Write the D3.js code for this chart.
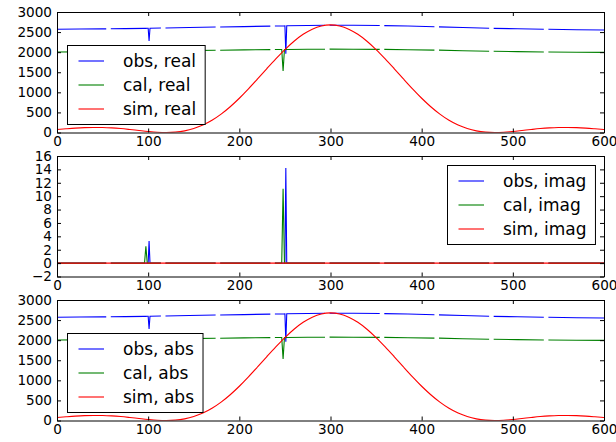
<!DOCTYPE html>
<html>
<head>
<meta charset="utf-8">
<script src="https://cdn.jsdelivr.net/npm/d3@7"></script>
<style>
  body { margin: 0; background: #fff; }
  svg { display: block; font-family: "DejaVu Sans", sans-serif; }
</style>
</head>
<body>
<div id="chart"></div>
<script>
var width  = 616;
var height = 442;

// sample positions shared by obs and cal (null values are gaps in the record)
var sampleX = [0, 25, 50, 54, 56, 59, 75, 96, 97.5, 99, 100, 101, 102, 114, 116, 119, 145,
  174, 176, 179, 205, 234, 236, 239, 246.5, 248, 249.5, 250, 251, 252, 275, 294, 296, 299,
  325, 354, 356, 359, 385, 414, 416, 419, 445, 474, 476, 479, 505, 534, 536, 539, 570, 600];

var obsReal = [2570, 2575, 2580, 2581, null, 2582, 2587, 2593, 2593, 2594, 2595, 2280, 2595,
  2600, null, 2602, 2613, 2625, null, 2627, 2637, 2648, null, 2650, 2653, 2653, 2654, 2655,
  1960, 2656, 2664, 2670, null, 2672, 2670, 2664, null, 2662, 2650, 2633, null, 2630, 2613,
  2596, null, 2593, 2583, 2571, null, 2569, 2558, 2550];

var calReal = [2005, 2008, 2012, 2013, null, 2014, 2018, 2024, 1750, 2025, 2025, 2025, 2025,
  2029, null, 2031, 2039, 2047, null, 2049, 2056, 2064, null, 2065, 2067, 1530, 2068, 2068,
  2068, 2068, 2072, 2074, null, 2075, 2073, 2070, null, 2069, 2062, 2052, null, 2050, 2037,
  2024, null, 2022, 2013, 2005, null, 2004, 1998, 1995];

var obsImag = [0, 0, 0, 0, null, 0, 0, 0, 0, 0, 0, 3.3, 0,
  0, null, 0, 0, 0, null, 0, 0, 0, null, 0, 0, 0, 0, 0,
  14.2, 0, 0, 0, null, 0, 0, 0, null, 0, 0, 0, null, 0, 0,
  0, null, 0, 0, 0, null, 0, 0, 0];

var calImag = [0, 0, 0, 0, null, 0, 0, 0, 2.5, 0, 0, 0, 0,
  0, null, 0, 0, 0, null, 0, 0, 0, null, 0, 0, 11.1, 0, 0,
  0, 0, 0, 0, null, 0, 0, 0, null, 0, 0, 0, null, 0, 0,
  0, null, 0, 0, 0, null, 0, 0, 0];

// simulated curve, every 10 samples
var simX = [0, 10, 20, 30, 40, 50, 60, 70, 80, 90, 100, 110, 120, 130, 140, 150, 160, 170, 180,
  190, 200, 210, 220, 230, 240, 250, 260, 270, 280, 290, 300, 310, 320, 330, 340, 350, 360,
  370, 380, 390, 400, 410, 420, 430, 440, 450, 460, 470, 480, 490, 500, 510, 520, 530, 540,
  550, 560, 570, 580, 590, 600];

var simReal = [73, 92, 109, 121, 126, 124, 115, 98, 75, 50, 26, 7, 0, 9, 40, 98, 185, 305, 458,
  642, 853, 1086, 1333, 1586, 1833, 2065, 2272, 2444, 2573, 2653, 2680, 2653, 2573, 2444,
  2272, 2065, 1833, 1586, 1333, 1086, 853, 642, 458, 305, 185, 98, 40, 9, 0, 7, 26, 50, 75,
  98, 115, 124, 126, 121, 109, 92, 73];

var simImag = [0, 0, 0, 0, 0, 0, 0, 0, 0, 0, 0, 0, 0, 0, 0, 0, 0, 0, 0, 0, 0, 0, 0, 0, 0, 0,
  0, 0, 0, 0, 0, 0, 0, 0, 0, 0, 0, 0, 0, 0, 0, 0, 0, 0, 0, 0, 0, 0, 0, 0, 0, 0, 0, 0, 0, 0,
  0, 0, 0, 0, 0];

// magnitude of the complex values
var obsAbs = obsReal.map(function(v, i) { return v == null ? null : Math.hypot(v, obsImag[i]); });
var calAbs = calReal.map(function(v, i) { return v == null ? null : Math.hypot(v, calImag[i]); });
var simAbs = simReal.map(function(v, i) { return Math.hypot(v, simImag[i]); });

var xTicks = [0, 100, 200, 300, 400, 500, 600];
var bigTicks = [0, 500, 1000, 1500, 2000, 2500, 3000];
var imagTicks = [-2, 0, 2, 4, 6, 8, 10, 12, 14, 16];

var colors = ["#0000ff", "#008000", "#ff0000"];

var panels = [
  { top: 12,  domain: [0, 3000], ticks: bigTicks, data: [obsReal, calReal, simReal],
    labels: ["obs, real", "cal, real", "sim, real"], legend: "lowerleft" },
  { top: 156, domain: [-2, 16], ticks: imagTicks, data: [obsImag, calImag, simImag],
    labels: ["obs, imag", "cal, imag", "sim, imag"], legend: "upperright" },
  { top: 300, domain: [0, 3000], ticks: bigTicks, data: [obsAbs, calAbs, simAbs],
    labels: ["obs, abs", "cal, abs", "sim, abs"], legend: "lowerleft" }
];

var left = 57, right = 604, panelH = 120.5;
var fmt = d3.format("d");

var svg = d3.select("#chart").append("svg")
  .attr("width", width)
  .attr("height", height);

var x = d3.scaleLinear().domain([0, 600]).range([left, right]);

function styleAxis(g) {
  g.attr("font-size", null).attr("font-family", null);
  g.selectAll("text").style("font-size", "13.6px").attr("fill", "#000");
  g.selectAll("line, path").attr("stroke", "#000");
}

panels.forEach(function(p, pi) {
  var bottom = p.top + panelH;
  var y = d3.scaleLinear().domain(p.domain).range([bottom, p.top]);

  svg.append("clipPath").attr("id", "clip" + pi)
    .append("rect")
    .attr("x", left).attr("y", p.top)
    .attr("width", right - left).attr("height", panelH);

  var plot = svg.append("g").attr("clip-path", "url(#clip" + pi + ")");

  p.data.forEach(function(vals, si) {
    var xs = si == 2 ? simX : sampleX;
    var line = d3.line()
      .defined(function(d) { return d[1] != null; })
      .x(function(d) { return x(d[0]); })
      .y(function(d) { return y(d[1]); });
    if (si == 2) line.curve(d3.curveMonotoneX);
    plot.append("path")
      .datum(xs.map(function(v, i) { return [v, vals[i]]; }))
      .attr("fill", "none")
      .attr("stroke", colors[si])
      .attr("stroke-width", 1.1)
      .attr("d", line);
  });

  svg.append("g").attr("transform", "translate(0," + bottom + ")")
    .call(d3.axisBottom(x).tickValues(xTicks).tickFormat(fmt)
      .tickSize(-4).tickSizeOuter(0).tickPadding(3.5))
    .call(styleAxis);
  svg.append("g").attr("transform", "translate(0," + p.top + ")")
    .call(d3.axisTop(x).tickValues(xTicks).tickSize(-4).tickSizeOuter(0).tickFormat(""))
    .call(styleAxis);
  svg.append("g").attr("transform", "translate(" + left + ",0)")
    .call(d3.axisLeft(y).tickValues(p.ticks).tickFormat(fmt)
      .tickSize(-4).tickSizeOuter(0).tickPadding(5))
    .call(styleAxis);
  svg.append("g").attr("transform", "translate(" + right + ",0)")
    .call(d3.axisRight(y).tickValues(p.ticks).tickSize(-4).tickSizeOuter(0).tickFormat(""))
    .call(styleAxis);

  // legend
  var leg = svg.append("g");
  var box = leg.append("rect")
    .attr("fill", "#fff")
    .attr("stroke", "#000")
    .attr("stroke-width", 1);
  var maxW = 0;
  p.labels.forEach(function(lab, si) {
    var ry = 16 + si * 24;
    leg.append("line")
      .attr("x1", 11.5).attr("x2", 37)
      .attr("y1", ry).attr("y2", ry)
      .attr("stroke", colors[si])
      .attr("stroke-width", 1.1);
    var t = leg.append("text")
      .attr("x", 56).attr("y", ry)
      .attr("dy", "0.36em")
      .style("font-size", "17px")
      .text(lab);
    maxW = Math.max(maxW, t.node().getComputedTextLength());
  });
  var boxW = 56 + maxW + 8.5, boxH = 79;
  box.attr("x", 0.5).attr("y", 0.5).attr("width", boxW).attr("height", boxH);
  var lx, ly;
  if (p.legend == "lowerleft") {
    lx = left + 9.5;
    ly = bottom - 9 - boxH;
  } else {
    lx = right - 9 - boxW;
    ly = p.top + 8.5;
  }
  leg.attr("transform", "translate(" + Math.round(lx) + "," + Math.round(ly) + ")");
});
</script>
</body>
</html>
